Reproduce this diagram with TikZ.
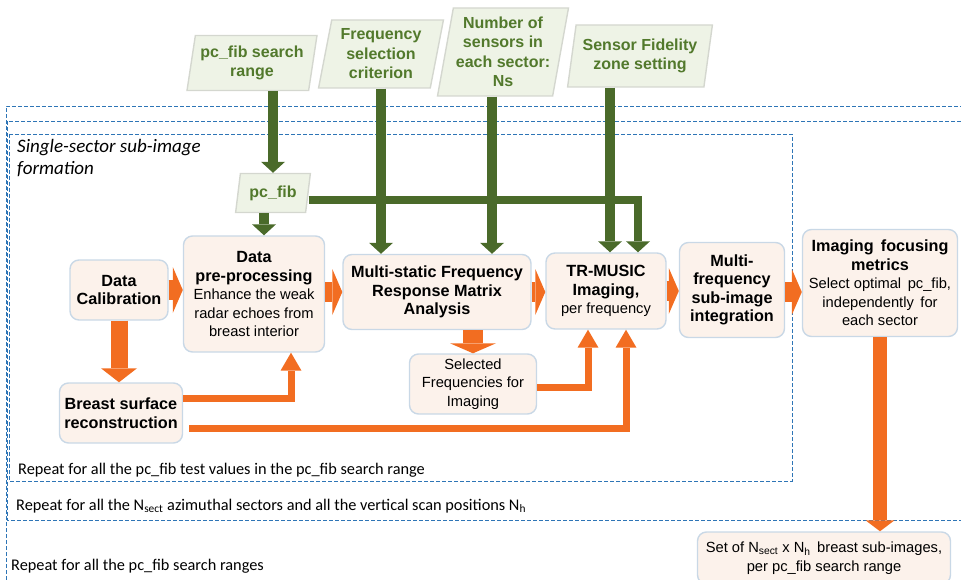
\documentclass[tikz,border=0pt]{standalone}
\usepackage{fontspec}
\setmainfont{Liberation Sans}
\newfontfamily\calfont{Carlito}
\usepackage{xcolor}
\usepackage{tikz}
\usetikzlibrary{shapes.geometric, arrows.meta, positioning, calc}

\definecolor{procfill}{HTML}{FCF2EB}
\definecolor{procline}{HTML}{C9D8E6}
\definecolor{inputfill}{HTML}{EEF3E6}
\definecolor{inputline}{HTML}{D4D7CF}
\definecolor{inputtext}{HTML}{52792C}
\definecolor{flowgreen}{HTML}{4A6A2A}
\definecolor{floworange}{HTML}{F26D21}
\definecolor{loopblue}{HTML}{2E75B6}

\newcommand{\boxhead}[1]{{\fontsize{16.2}{18.5}\selectfont\bfseries #1}}

\begin{document}
\begin{tikzpicture}[x=1pt, y=-1pt, >=Stealth]
        % Styles
        \tikzset{
            procblock/.style={draw=procline, fill=procfill, rectangle, rounded corners=9pt, align=center, font=\fontsize{14.7}{18.5}\selectfont, line width=1.4pt, inner sep=2pt},
            inputblock/.style={trapezium, trapezium left angle=78, trapezium right angle=102, trapezium stretches=true, draw=inputline, fill=inputfill, text=inputtext, align=center, font=\bfseries\fontsize{16}{19.5}\selectfont, line width=1.4pt, inner sep=1pt},
            greenflow/.style={draw=flowgreen, line width=10pt, -{Triangle[width=24pt, length=11pt, line width=0pt]}},
            bigflow/.style={draw=floworange, line width=20pt, -{Triangle[width=46pt, length=10pt, line width=0pt]}},
            downflow/.style={draw=floworange, line width=17pt, -{Triangle[width=36pt, length=14pt, line width=0pt]}},
            thinflow/.style={draw=floworange, line width=7pt, -{Triangle[width=21pt, length=18pt, line width=0pt]}},
            loopframe/.style={draw=loopblue, line width=0.9pt, dash pattern=on 4pt off 2pt},
            looplabel/.style={anchor=west, font=\calfont\fontsize{16.3}{19}\selectfont, inner sep=2pt}
        }

        \useasboundingbox (0,0) rectangle (961,580);

        % Loop frames
        \draw [loopframe] (6,580) -- (6,106) -- (961,106);
        \draw [loopframe] (961,121) -- (7.5,121) -- (7.5,520) -- (961,520);
        \draw [loopframe] (9,134) rectangle (792,481);

        \node [anchor=north west, align=left, inner sep=2pt, font=\calfont\itshape\fontsize{19}{22}\selectfont] (sectortitle) at (15,137) {Single-sector sub-image\\formation};
        \node [looplabel] (repfib) at (16,470) {Repeat for all the pc\_fib test values in the pc\_fib search range};
        \node [looplabel] (repsect) at (14,506) {Repeat for all the N\textsubscript{sect} azimuthal sectors and all the vertical scan positions N\textsubscript{h}};
        \node [looplabel] (reprange) at (9,566) {Repeat for all the pc\_fib search ranges};

        % Input nodes
        \node [inputblock, minimum width=130pt, minimum height=55pt] (srchrange) at (252,63) {pc\_fib search\\range};
        \node [inputblock, minimum width=125pt, minimum height=68pt] (freqsel) at (381,54) {Frequency\\selection\\criterion};
        \node [inputblock, minimum width=131pt, minimum height=88pt] (nsens) at (503,52) {Number of\\sensors in\\each sector:\\Ns};
        \node [inputblock, minimum width=145pt, minimum height=62pt] (fidel) at (640,56) {Sensor Fidelity\\zone setting};
        \node [inputblock, minimum width=75pt, minimum height=39pt] (pcfib) at (273,193) {pc\_fib};

        % Processing nodes
        \node [procblock, minimum width=98pt, minimum height=60pt] (calib) at (119,290) {\boxhead{Data}\\\boxhead{Calibration}};
        \node [procblock, minimum width=141pt, minimum height=116pt] (prep) at (254,294) {\boxhead{Data}\\\boxhead{pre-processing}\\Enhance the weak\\radar echoes from\\breast interior};
        \node [procblock, minimum width=188pt, minimum height=75pt] (msfr) at (437,292) {\boxhead{Multi-static Frequency}\\\boxhead{Response Matrix}\\\boxhead{Analysis}};
        \node [procblock, minimum width=120pt, minimum height=76pt] (trmusic) at (606,291) {\boxhead{TR-MUSIC}\\\boxhead{Imaging,}\\per frequency};
        \node [procblock, minimum width=105pt, minimum height=95pt] (mfint) at (732,290) {\boxhead{Multi-}\\\boxhead{frequency}\\\boxhead{sub-image}\\\boxhead{integration}};
        \node [procblock, minimum width=155pt, minimum height=107pt] (focus) at (880,283) {\boxhead{Imaging\, focusing}\\\boxhead{metrics}\\Select optimal\, pc\_fib,\\independently\, for\\each sector};
        \node [procblock, minimum width=123pt, minimum height=60pt] (bsurf) at (121,413) {\boxhead{Breast surface}\\\boxhead{reconstruction}};
        \node [procblock, minimum width=127pt, minimum height=60pt] (selfreq) at (473,384) {Selected\\Frequencies for\\Imaging};
        \node [procblock, minimum width=253pt, minimum height=52pt] (subimg) at (824,558) {Set of N\textsubscript{sect} x N\textsubscript{h}\, breast sub-images,\\per pc\_fib search range};

        % Input arrows
        \draw [greenflow] (srchrange.south -| pcfib.north) -- (pcfib.north);
        \draw [greenflow] ([xshift=-9pt]pcfib.south) -- ([xshift=-9pt]pcfib.south |- prep.north);
        \draw [greenflow] (freqsel.south) -- (freqsel.south |- msfr.north);
        \draw [greenflow] ([xshift=-11pt]nsens.south) -- ([xshift=-11pt]nsens.south |- msfr.north);
        \draw [greenflow] ([xshift=-30pt]fidel.south) -- ([xshift=-30pt]fidel.south |- trmusic.north);
        \draw [greenflow, line width=8pt] ([yshift=-7pt]pcfib.east) -| ([xshift=32pt]trmusic.north);

        % Processing arrows
        \draw [bigflow] (calib.east) -- (calib.east -| prep.west);
        \draw [bigflow] (prep.east |- msfr.west) -- (msfr.west);
        \draw [bigflow] (msfr.east) -- (msfr.east -| trmusic.west);
        \draw [bigflow] (trmusic.east) -- (trmusic.east -| mfint.west);
        \draw [bigflow] ([yshift=-2pt]mfint.east) -- ([yshift=-2pt]mfint.east -| focus.west);
        \draw [downflow] (calib.south) -- (calib.south |- bsurf.north);
        \draw [bigflow] (selfreq.north |- msfr.south) -- (selfreq.north);
        \draw [downflow, line width=14pt, -{Triangle[width=29pt, length=11pt, line width=0pt]}] (focus.south) -- (focus.south |- subimg.north);
        \draw [thinflow] ([yshift=15pt]bsurf.east) -| ([xshift=37pt]prep.south);
        \draw [thinflow] ([xshift=6pt, yshift=-15pt]bsurf.east) -| ([xshift=20pt]trmusic.south);
        \draw [thinflow] ([yshift=-3pt]selfreq.east) -| ([xshift=-18pt]trmusic.south);
    \end{tikzpicture}
\end{document}
